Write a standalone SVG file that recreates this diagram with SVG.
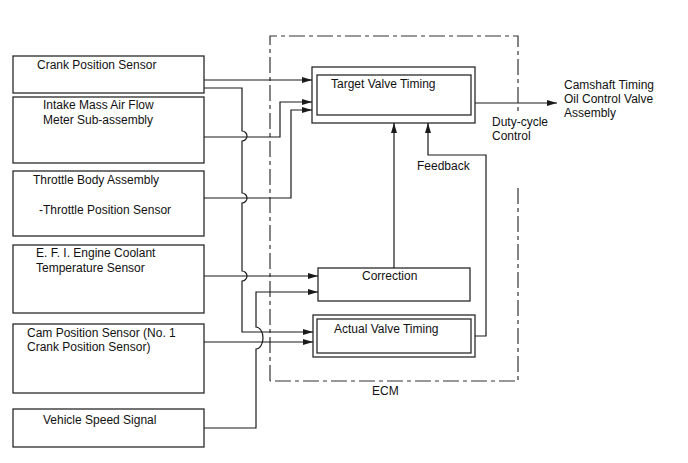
<svg xmlns="http://www.w3.org/2000/svg" width="688" height="463" viewBox="0 0 688 463">
<defs>
<marker id="arr" viewBox="0 0 10 6" refX="10" refY="3" markerWidth="10" markerHeight="6" markerUnits="userSpaceOnUse" orient="auto">
<path d="M0 0 L10 3 L0 6 Z" fill="#1a1a1a"/>
</marker>
<style>
.box{fill:#fff;stroke:#2a2a2a;stroke-width:1.3}
.ln{fill:none;stroke:#1a1a1a;stroke-width:1.2}
.ar{marker-end:url(#arr)}
.ecm{fill:none;stroke:#333;stroke-width:1.2;stroke-dasharray:16 4 4 4}
text{font-family:"Liberation Sans",Arial,sans-serif;font-size:12px;fill:#111}
</style>
</defs>
<rect width="688" height="463" fill="#fff"/>
<g id="ecm">
<path class="ecm" d="M270 381 V36 H518 V112"/>
<path class="ecm" d="M518 188 V381 H270"/>
<text x="372" y="395">ECM</text>
</g>
<g id="crank">
<rect class="box" x="13" y="56" width="191" height="37"/>
<text x="37" y="69">Crank Position Sensor</text>
</g>
<g id="intake">
<rect class="box" x="13" y="97" width="191" height="66"/>
<text x="43" y="109">Intake Mass Air Flow</text>
<text x="43" y="124">Meter Sub-assembly</text>
</g>
<g id="throttle">
<rect class="box" x="13" y="171" width="191" height="65"/>
<text x="33" y="184">Throttle Body Assembly</text>
<text x="39" y="214">-Throttle Position Sensor</text>
</g>
<g id="efi">
<rect class="box" x="13" y="245" width="191" height="68"/>
<text x="36" y="257">E. F. I. Engine Coolant</text>
<text x="36" y="272">Temperature Sensor</text>
</g>
<g id="cam">
<rect class="box" x="13" y="324" width="191" height="69"/>
<text x="27" y="337">Cam Position Sensor (No. 1</text>
<text x="27" y="351">Crank Position Sensor)</text>
</g>
<g id="vehicle">
<rect class="box" x="13" y="409" width="191" height="38"/>
<text x="43" y="424">Vehicle Speed Signal</text>
</g>
<g id="target">
<rect class="box" x="312" y="67" width="163" height="56"/>
<rect class="box" x="317" y="75" width="154" height="40"/>
<text x="331" y="88">Target Valve Timing</text>
</g>
<g id="correction">
<rect class="box" x="318" y="268" width="152" height="33"/>
<text x="362" y="280">Correction</text>
</g>
<g id="actual">
<rect class="box" x="313" y="315" width="162" height="42"/>
<rect class="box" x="317" y="319" width="154" height="34"/>
<text x="334" y="333">Actual Valve Timing</text>
</g>
<g id="camshaft">
<text x="564" y="89">Camshaft Timing</text>
<text x="564" y="103">Oil Control Valve</text>
<text x="564" y="117">Assembly</text>
</g>
<g id="connectors">
<path class="ln ar" d="M204 80 H312"/>
<path class="ln ar" d="M204 88 H242 V131 A5 5 0 0 1 242 141 V193 A5 5 0 0 1 242 203 V271 A5 5 0 0 1 242 281 V332 H313"/>
<path class="ln ar" d="M204 137 H280 V102 H312"/>
<path class="ln ar" d="M204 198 H291 V110 H312"/>
<path class="ln ar" d="M204 276 H318"/>
<path class="ln ar" d="M204 428 H256 V349 A7 11 0 0 0 256 327 V292 H318"/>
<path class="ln ar" d="M204 342 H313"/>
<path class="ln ar" d="M394 268 V123"/>
<path class="ln ar" d="M475 336 H486 V155 H428 V123"/>
<path class="ln ar" d="M475 103 H557"/>
<text x="417" y="170">Feedback</text>
<text x="492" y="126">Duty-cycle</text>
<text x="492" y="140">Control</text>
</g>
</svg>
